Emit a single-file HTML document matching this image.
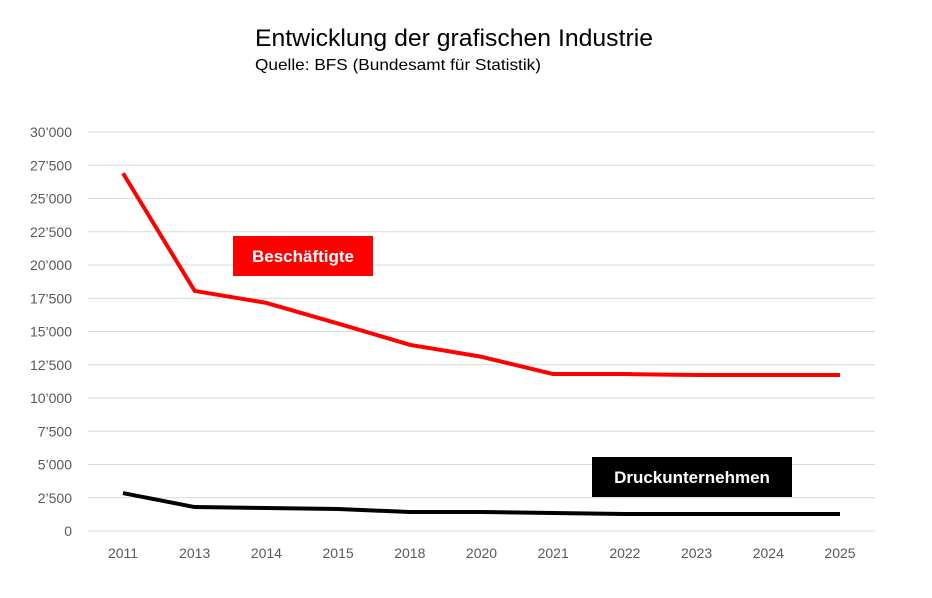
<!DOCTYPE html>
<html><head><meta charset="utf-8"><style>
body{margin:0;background:#fff;font-family:"Liberation Sans",sans-serif;}
svg text{font-family:"Liberation Sans",sans-serif;}
</style></head><body>
<svg width="932" height="593" viewBox="0 0 932 593">
<rect x="0" y="0" width="932" height="593" fill="#fff"/>
<text x="255" y="46" font-size="24" fill="#000" textLength="398" lengthAdjust="spacingAndGlyphs">Entwicklung der grafischen Industrie</text>
<text x="255" y="70" font-size="16" fill="#000" textLength="286" lengthAdjust="spacingAndGlyphs">Quelle: BFS (Bundesamt für Statistik)</text>
<g id="grid"></g><g id="ylab"></g><g id="xlab"></g><g id="series"></g>
<rect x="233" y="236" width="140" height="40" fill="#ff0000"/>
<text x="303" y="262" font-size="17" font-weight="bold" fill="#fff" text-anchor="middle">Beschäftigte</text>
<rect x="592" y="457" width="200" height="40" fill="#000"/>
<text x="692" y="483" font-size="17" font-weight="bold" fill="#fff" text-anchor="middle">Druckunternehmen</text>
</svg>
<script>
const categories=["2011","2013","2014","2015","2018","2020","2021","2022","2023","2024","2025"];
const beschaeftigte=[26900,18050,17150,15600,14000,13100,11800,11800,11730,11730,11730];
const druckunternehmen=[2850,1800,1730,1650,1430,1430,1350,1280,1280,1280,1280];
const yTicks=[0,2500,5000,7500,10000,12500,15000,17500,20000,22500,25000,27500,30000];
const yTickLabels=["0","2’500","5’000","7’500","10’000","12’500","15’000","17’500","20’000","22’500","25’000","27’500","30’000"];
const NS="http://www.w3.org/2000/svg";
const L=88,R=875,Y0=531,Y1=132;
function y(v){return Y0-(v/30000)*(Y0-Y1);}
function x(i){return 123+i*(840-123)/(categories.length-1);}
function mk(t,a,p){const e=document.createElementNS(NS,t);for(const k in a)e.setAttribute(k,a[k]);document.getElementById(p).appendChild(e);return e;}
yTicks.forEach((v,i)=>{
 const l=mk('line',{x1:L,x2:R,y1:y(v),y2:y(v),stroke:'#d9d9d9','stroke-width':1},'grid');
 
 
 const t=mk('text',{x:72,y:y(v)+5,'font-size':14,fill:'#595959','text-anchor':'end'},'ylab');
 t.textContent=yTickLabels[i];
 
 
});
categories.forEach((c,i)=>{
 const t=mk('text',{x:x(i),y:558,'font-size':14,fill:'#595959','text-anchor':'middle'},'xlab');
 t.textContent=c;
 
 
});
function line(d,col,name){
 const p=mk('polyline',{points:d.map((v,i)=>x(i)+','+y(v)).join(' '),fill:'none',stroke:col,'stroke-width':4,'stroke-linejoin':'round'},'series');
 
 
}
line(beschaeftigte,'#ff0000','line-beschaeftigte');
line(druckunternehmen,'#000000','line-druckunternehmen');
</script>
</body></html>
